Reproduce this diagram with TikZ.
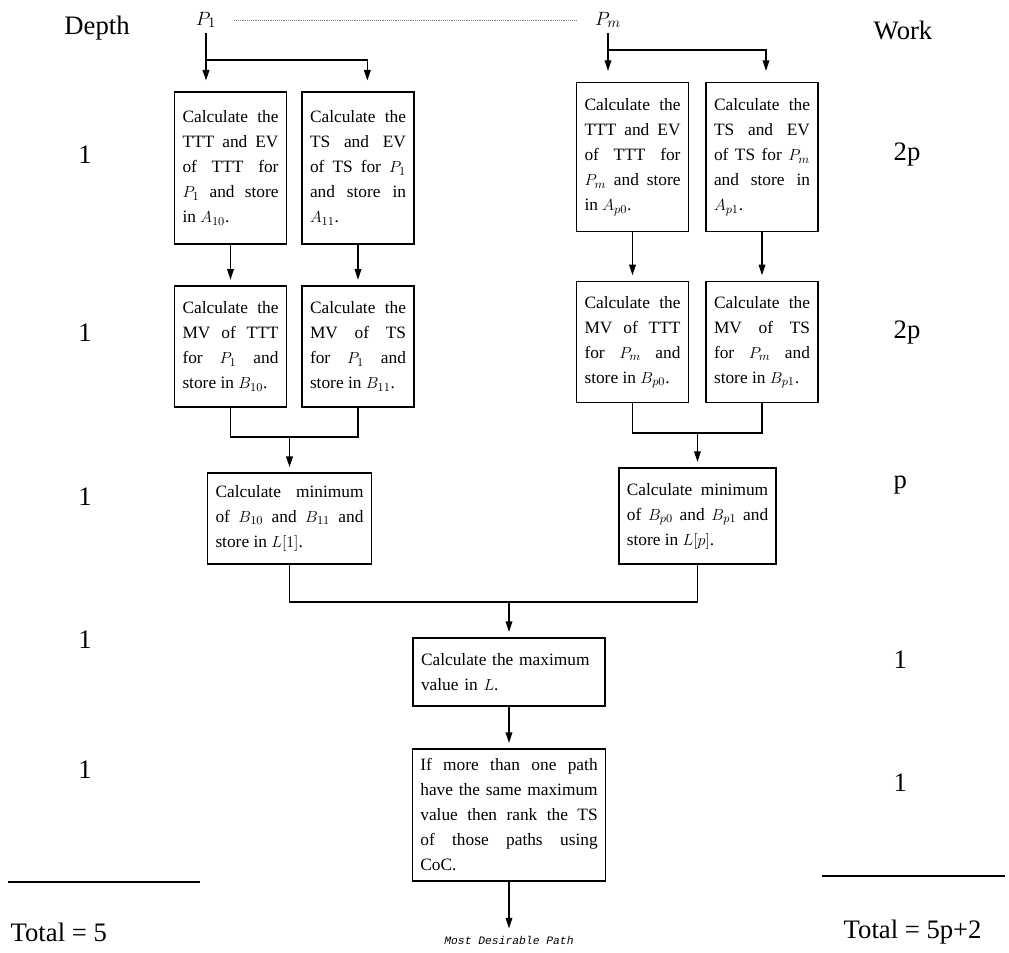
\documentclass[tikz,border=0pt]{standalone}
\usepackage{fontspec}
\setmainfont{Liberation Serif}
\setmonofont{Liberation Mono}
\usetikzlibrary{arrows.meta,calc}

\tikzset{
  stepbox/.style={draw, line width=1.1pt, align=justify, inner xsep=6pt, inner ysep=4pt,
    font=\fontsize{13}{18.75}\selectfont},
  colbox/.style={stepbox, text width=72pt, minimum width=84pt},
  arr/.style={line width=1.1pt, -{Triangle[length=8pt,width=5pt]}, shorten >=4pt},
  link/.style={line width=1.1pt},
  biglabel/.style={font=\fontsize{20}{24}\selectfont},
}

\begin{document}
\begin{tikzpicture}[x=0.75pt,y=0.75pt,yscale=-1,xscale=1]
        \useasboundingbox (0,0) rectangle (1009,952);

        %column heads
        \node[biglabel] (depth) at (97,28) {Depth};
        \node[biglabel] (work) at (903,30) {Work};
        \node[font=\fontsize{15}{17}\selectfont] (P1) at (206,20) {$P_1$};
        \node[font=\fontsize{15}{17}\selectfont] (Pm) at (608,20) {$P_m$};
        \draw[densely dotted, gray, shorten <=10pt, shorten >=10pt] (P1.east) -- (Pm.west);

        %first row
        \node[colbox, minimum height=114pt] (A10) at (230.5,168) {Calculate the\linebreak TTT and EV\linebreak of TTT for\linebreak $P_1$ and store\linebreak in $A_{10}$.};
        \node[colbox, minimum height=114pt] (A11) at (358,168) {Calculate the\linebreak TS and EV\linebreak of TS for $P_1$\linebreak and store in\linebreak $A_{11}$.};
        \node[colbox, minimum height=112pt] (Ap0) at (632.5,157) {Calculate the\linebreak TTT and EV\linebreak of TTT for\linebreak $P_m$ and store\linebreak in $A_{p0}$.};
        \node[colbox, minimum height=112pt] (Ap1) at (762,157) {Calculate the\linebreak TS and EV\linebreak of TS for $P_m$\linebreak and store in\linebreak $A_{p1}$.};

        %second row
        \node[colbox, minimum height=91pt] (B10) at (230.5,346.5) {Calculate the\linebreak MV of TTT\linebreak for $P_1$ and\linebreak store in $B_{10}$.};
        \node[colbox, minimum height=91pt] (B11) at (358,346.5) {Calculate the\linebreak MV of TS\linebreak for $P_1$ and\linebreak store in $B_{11}$.};
        \node[colbox, minimum height=91pt] (Bp0) at (632.5,342) {Calculate the\linebreak MV of TTT\linebreak for $P_m$ and\linebreak store in $B_{p0}$.};
        \node[colbox, minimum height=91pt] (Bp1) at (762,342) {Calculate the\linebreak MV of TS\linebreak for $P_m$ and\linebreak store in $B_{p1}$.};

        %minimum boxes
        \node[stepbox, text width=111pt, minimum height=68pt] (L1) at (289.5,518.5) {Calculate minimum\linebreak of $B_{10}$ and $B_{11}$ and\linebreak store in $L[1]$.};
        \node[stepbox, text width=106pt, minimum height=72pt] (Lp) at (697.5,516) {Calculate minimum\linebreak of $B_{p0}$ and $B_{p1}$ and\linebreak store in $L[p]$.};

        %last steps
        \node[stepbox, align=left, text width=132pt, minimum height=51pt] (Max) at (509,672) {Calculate the maximum\\ value in $L$.};
        \node[stepbox, text width=133pt, minimum height=99pt] (Rank) at (509,815) {If more than one path\linebreak have the same maximum\linebreak value then rank the TS\linebreak of those paths using\linebreak CoC.};
        \node[font=\ttfamily\itshape\fontsize{8.5}{10}\selectfont] (goal) at (509,940) {Most Desirable Path};

        %junctions
        \coordinate (s1) at (206,60);
        \coordinate (s2) at (608,50);
        \coordinate (j1) at (289.5,437);
        \coordinate (j2) at (697.5,433);
        \coordinate (j3) at (509,602);

        %connectors
        \draw[arr, shorten >=8pt] (P1) -- (P1 |- A10.north);
        \draw[arr, shorten >=8pt] (s1) -| ([xshift=7pt]A11.north);
        \draw[arr, shorten >=8pt] (Pm) -- (Pm |- Ap0.north);
        \draw[arr, shorten >=8pt] (s2) -| ([xshift=3pt]Ap1.north);
        \draw[arr] (A10) -- (B10);
        \draw[arr] (A11) -- (B11);
        \draw[arr] (Ap0) -- (Bp0);
        \draw[arr] (Ap1) -- (Bp1);
        \draw[link] (B10) |- (j1) -| (B11);
        \draw[link] (Bp0) |- (j2) -| (Bp1);
        \draw[arr] (j1) -- (L1);
        \draw[arr] (j2) -- (Lp);
        \draw[link] (L1) |- (j3) -| (Lp);
        \draw[arr] (j3) -- (Max);
        \draw[arr] (Max) -- (Rank);
        \draw[arr, shorten >=2pt] (Rank) -- (goal);

        %depth and work columns
        \node[biglabel] (d1) at (85,155) {1};
        \node[biglabel] (d2) at (85,333) {1};
        \node[biglabel] (d3) at (85,497) {1};
        \node[biglabel] (d4) at (85,640) {1};
        \node[biglabel] (d5) at (85,770) {1};
        \node[biglabel, anchor=west] (w1) at (889,155) {2p};
        \node[biglabel, anchor=west] (w2) at (889,333) {2p};
        \node[biglabel, anchor=west] (w3) at (889,485) {p};
        \node[biglabel, anchor=west] (w4) at (889,660) {1};
        \node[biglabel, anchor=west] (w5) at (889,783) {1};

        %totals
        \draw[line width=1pt] (8,882) -- (200,882);
        \draw[line width=1pt] (822,876) -- (1005,876);
        \node[biglabel, anchor=west] (tdepth) at (6,932) {Total = 5};
        \node[biglabel, anchor=west] (twork) at (839,932) {Total = 5p+2};
\end{tikzpicture}
\end{document}
